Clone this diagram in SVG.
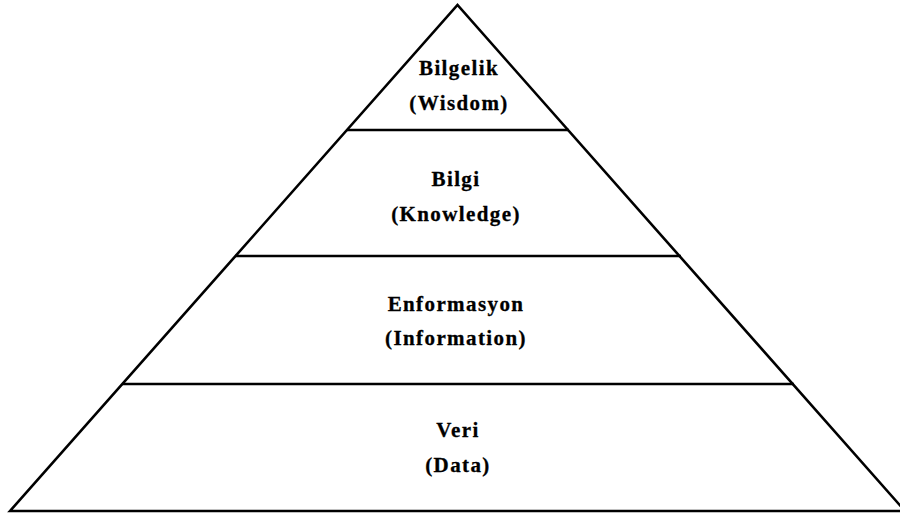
<svg xmlns="http://www.w3.org/2000/svg" width="900" height="514" viewBox="0 0 900 514">
<style>
.edge{stroke:#000;stroke-width:2.6;fill:none;stroke-linejoin:miter}
.lbl{font-family:"Liberation Serif","Times New Roman",serif;font-weight:bold;font-size:21px;letter-spacing:1.4px;fill:#000;stroke:#000;stroke-width:0.3;text-anchor:middle}
</style>
<rect width="900" height="514" fill="#fff"/>
<g id="connectors">
<path class="edge" d="M10,511 L457.5,5 L905,511 Z"/>
<line class="edge" x1="347" y1="130" x2="569" y2="130"/>
<line class="edge" x1="235" y1="256" x2="681" y2="256"/>
<line class="edge" x1="122" y1="384" x2="794" y2="384"/>
</g>
<g id="wisdom">
<text class="lbl" x="459" y="75">Bilgelik</text>
<text class="lbl" x="459" y="110">(Wisdom)</text>
</g>
<g id="knowledge">
<text class="lbl" x="456" y="186">Bilgi</text>
<text class="lbl" x="456" y="221">(Knowledge)</text>
</g>
<g id="information">
<text class="lbl" x="456" y="311">Enformasyon</text>
<text class="lbl" x="456" y="345">(Information)</text>
</g>
<g id="data">
<text class="lbl" x="458" y="437">Veri</text>
<text class="lbl" x="458" y="472">(Data)</text>
</g>
</svg>
